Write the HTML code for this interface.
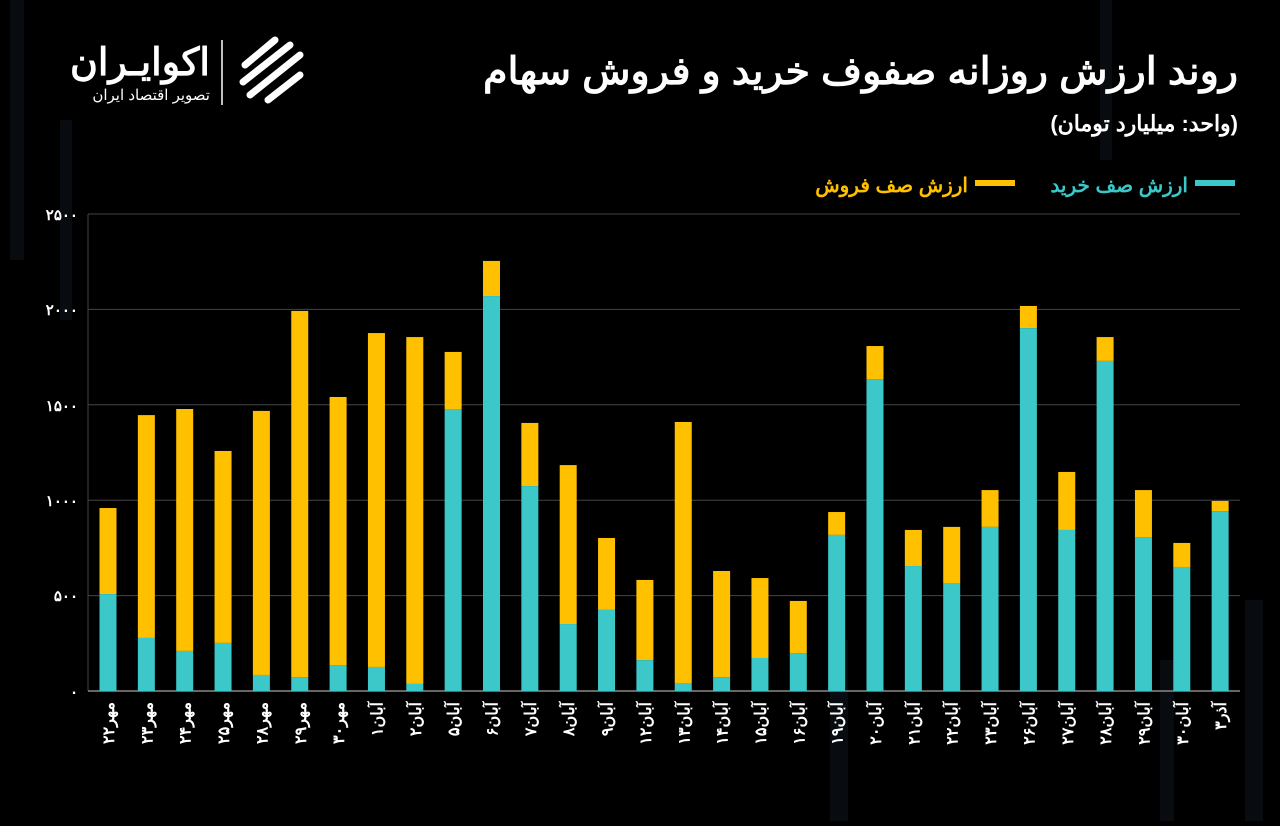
<!DOCTYPE html>
<html><head><meta charset="utf-8">
<style>
body{margin:0;background:#000;width:1280px;height:821px;overflow:hidden;font-family:"Liberation Sans","Noto Sans CJK SC",sans-serif;}
</style></head><body>
<svg width="1280" height="821" xmlns="http://www.w3.org/2000/svg" font-family="Liberation Sans, Noto Sans CJK SC, sans-serif">
<rect width="1280" height="821" fill="#000"/>
<g fill="#080b10">
<rect x="10" y="0" width="14" height="260"/><rect x="60" y="120" width="12" height="200"/>
<rect x="830" y="640" width="18" height="181"/><rect x="1245" y="600" width="18" height="221"/>
<rect x="1160" y="660" width="14" height="161"/><rect x="1100" y="0" width="12" height="160"/>
</g>
<g font-weight="bold" fill="#fff" text-anchor="start" direction="rtl">
<text x="1238" y="84" font-size="38" textLength="755" lengthAdjust="spacingAndGlyphs">روند ارزش روزانه صفوف خرید و فروش سهام</text>
<text x="1238" y="131" font-size="22">(واحد: میلیارد تومان)</text>
</g>
<rect x="1195" y="180" width="40" height="6" fill="#3cc8c8"/>
<text x="1188" y="192" font-size="20" font-weight="bold" fill="#3cc8c8" text-anchor="start" direction="rtl">ارزش صف خرید</text>
<rect x="975" y="180" width="40" height="6" fill="#ffc000"/>
<text x="968" y="192" font-size="20" font-weight="bold" fill="#ffc000" text-anchor="start" direction="rtl">ارزش صف فروش</text>
<!-- logo -->
<text x="210" y="75" font-size="38" font-weight="bold" fill="#fff" text-anchor="start" direction="rtl">اکوایـران</text>
<text x="210" y="100" font-size="15" fill="#fff" text-anchor="start" direction="rtl">تصویر اقتصاد ایران</text>
<line x1="222" y1="40" x2="222" y2="105" stroke="#fff" stroke-width="1.5"/>
<g fill="none" stroke="#fff" stroke-width="7" stroke-linecap="round">
<path d="M245 65 L275 40"/><path d="M243 82 L290 45"/><path d="M250 95 L300 55"/><path d="M268 100 L300 75"/>
</g>
<!-- grid -->
<g stroke="#444" stroke-width="1">
<line x1="88" y1="214" x2="1240" y2="214"/><line x1="88" y1="309.4" x2="1240" y2="309.4"/>
<line x1="88" y1="404.8" x2="1240" y2="404.8"/><line x1="88" y1="500.2" x2="1240" y2="500.2"/>
<line x1="88" y1="595.6" x2="1240" y2="595.6"/><line x1="88" y1="214" x2="88" y2="691"/>
</g>
<line x1="88" y1="691" x2="1240" y2="691" stroke="#888" stroke-width="1.5"/>
<g fill="#fff" font-size="15" text-anchor="end" font-weight="bold">
<text x="78" y="220">۲۵۰۰</text><text x="78" y="315">۲۰۰۰</text><text x="78" y="411">۱۵۰۰</text>
<text x="78" y="506">۱۰۰۰</text><text x="78" y="601">۵۰۰</text><text x="78" y="697">۰</text>
</g>
<g id="bars"></g>
<g id="labels" fill="#fff" font-size="16" font-weight="bold"></g>
<script>
var tot=[959,1446,1478,1258,1468,1992,1541,1876,1855,1777,2254,1405,1184,802,582,1410,629,592,472,938,1808,844,860,1053,2018,1148,1855,1053,776,996];
var buy=[508,278,210,252,84,73,136,126,37,1478,2070,1074,351,425,162,42,73,173,199,818,1635,655,566,860,1902,844,1730,807,650,943];
var lab=["مهر۲۲","مهر۲۳","مهر۲۴","مهر۲۵","مهر۲۸","مهر۲۹","مهر۳۰","آبان۱","آبان۲","آبان۵","آبان۶","آبان۷","آبان۸","آبان۹","آبان۱۲","آبان۱۳","آبان۱۴","آبان۱۵","آبان۱۶","آبان۱۹","آبان۲۰","آبان۲۱","آبان۲۲","آبان۲۳","آبان۲۶","آبان۲۷","آبان۲۸","آبان۲۹","آبان۳۰","آذر۳"];
var ns="http://www.w3.org/2000/svg",b=document.getElementById("bars"),l=document.getElementById("labels");
var k=477/2500;
for(var i=0;i<30;i++){
 var cx=108+i*38.35,w=17;
 var r1=document.createElementNS(ns,"rect");r1.setAttribute("x",cx-w/2);r1.setAttribute("width",w);
 r1.setAttribute("y",691-tot[i]*k);r1.setAttribute("height",(tot[i]-buy[i])*k);r1.setAttribute("fill","#ffc000");b.appendChild(r1);
 var r2=document.createElementNS(ns,"rect");r2.setAttribute("x",cx-w/2);r2.setAttribute("width",w);
 r2.setAttribute("y",691-buy[i]*k);r2.setAttribute("height",buy[i]*k);r2.setAttribute("fill","#3cc8c8");b.appendChild(r2);
 var t=document.createElementNS(ns,"text");t.setAttribute("transform","translate("+(cx+6)+",702) rotate(-90)");
 t.setAttribute("text-anchor","start");t.setAttribute("direction","rtl");t.textContent=lab[i];l.appendChild(t);
}
</script>
</svg>
</body></html>
